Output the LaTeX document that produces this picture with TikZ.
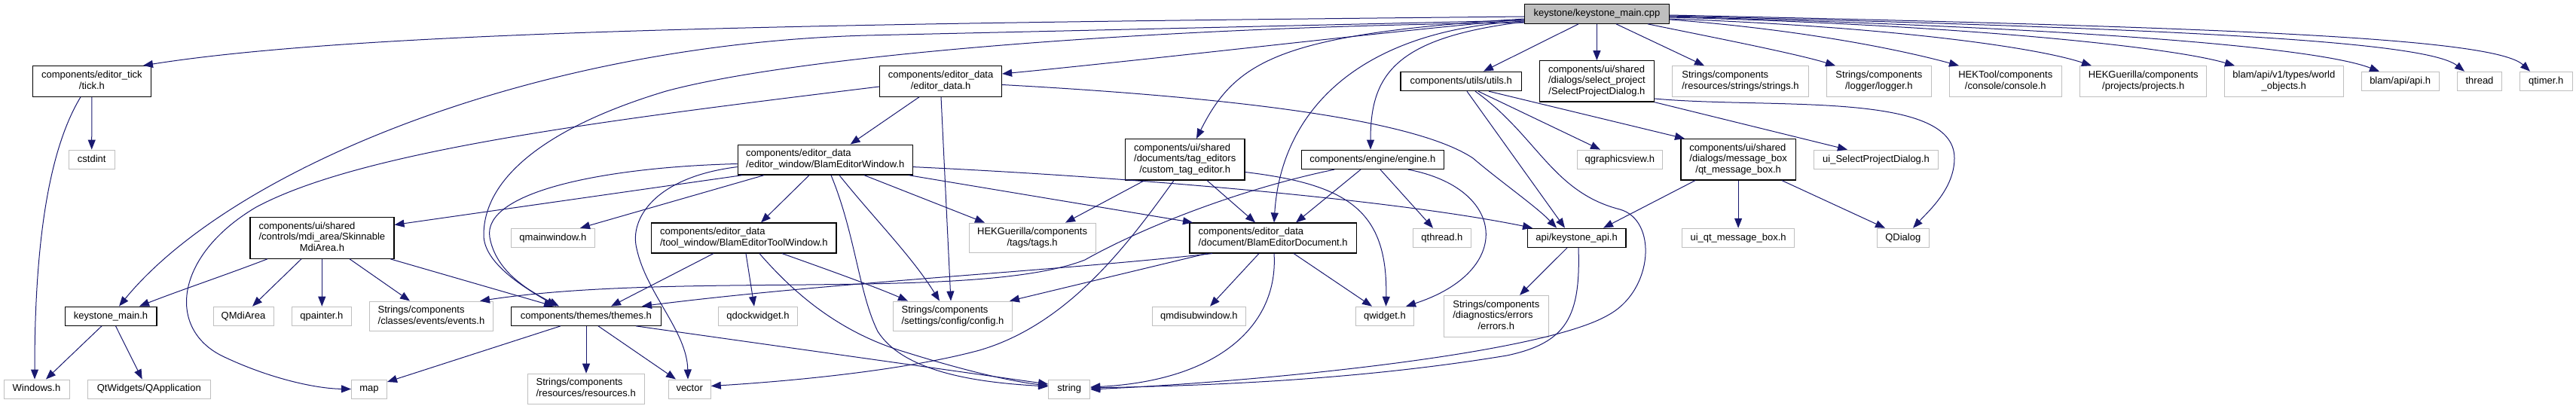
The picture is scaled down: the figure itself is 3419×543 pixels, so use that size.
\documentclass[tikz,border=0pt]{standalone}
\usepackage{fontspec}
\setmainfont{Liberation Sans}
\usetikzlibrary{arrows.meta}
\definecolor{midblue}{HTML}{191970}
\definecolor{greyseventyfive}{HTML}{BFBFBF}
\newcommand\dxl[2]{\begin{tabular}{@{}l@{}}#1\\\multicolumn{1}{@{}c@{}}{#2}\end{tabular}}
\begin{document}
\begin{tikzpicture}[x=1pt,y=-1pt,font=\fontsize{13}{14.6}\selectfont,
 bx/.style={draw=black,line width=1.3pt,inner sep=0pt,fill=white},
 gx/.style={draw=greyseventyfive,line width=1pt,inner sep=0pt,fill=white},
 one/.style={text height=9.5pt,text depth=2.8pt},
 dep/.style={draw=midblue,line width=1pt,-{Triangle[length=13pt,width=10pt]}}]
\useasboundingbox (0,0) rectangle (3419,543);
% nodes
\node[bx,fill=greyseventyfive,one,minimum width=192pt,minimum height=26pt] (root) at (2119.4,18.2) {keystone/keystone\_main.cpp};
\node[bx,minimum width=157.2pt,minimum height=40.5pt] (tick) at (121.9,107.9) {\dxl{components/editor\_tick}{/tick.h}};
\node[gx,one,minimum width=61.4pt,minimum height=25.3pt] (cstdint) at (121.7,211.7) {cstdint};
\node[bx,minimum width=190.9pt,minimum height=54.7pt] (mdi) at (427.4,315.8) {\dxl{components/ui/shared\\/controls/mdi\_area/Skinnable}{MdiArea.h}};
\node[bx,one,minimum width=121.7pt,minimum height=25pt] (kmain) at (147.1,419.7) {keystone\_main.h};
\node[gx,one,minimum width=80pt,minimum height=25pt] (qmdiarea) at (323,419.7) {QMdiArea};
\node[gx,one,minimum width=79.2pt,minimum height=25pt] (qpainter) at (426.9,419.7) {qpainter.h};
\node[gx,minimum width=163.8pt,minimum height=39.7pt] (events) at (572.5,419.9) {\dxl{Strings/components}{/classes/events/events.h}};
\node[gx,one,minimum width=87pt,minimum height=25pt] (windows) at (48.5,516.5) {Windows.h};
\node[gx,one,minimum width=162.5pt,minimum height=25pt] (qapp) at (197.8,516.5) {QtWidgets/QApplication};
\node[gx,one,minimum width=47pt,minimum height=25pt] (map) at (490,516.5) {map};
\node[bx,minimum width=232.2pt,minimum height=39.8pt] (bew) at (1095.3,212.1) {\dxl{components/editor\_data}{/editor\_window/BlamEditorWindow.h}};
\node[gx,one,minimum width=111pt,minimum height=25pt] (qmainwindow) at (733.9,315.8) {qmainwindow.h};
\node[bx,minimum width=245.6pt,minimum height=39.8pt] (betw) at (987.3,316) {\dxl{components/editor\_data}{/tool\_window/BlamEditorToolWindow.h}};
\node[bx,one,minimum width=199pt,minimum height=25pt] (themes) at (777.9,419.7) {components/themes/themes.h};
\node[gx,one,minimum width=105.4pt,minimum height=25pt] (qdock) at (1006,419.7) {qdockwidget.h};
\node[gx,minimum width=155pt,minimum height=39.8pt] (resources) at (777.7,516.1) {\dxl{Strings/components}{/resources/resources.h}};
\node[gx,one,minimum width=56.2pt,minimum height=25pt] (vector) at (915.2,516.5) {vector};
\node[bx,minimum width=161.7pt,minimum height=40.5pt] (edata) at (1248.6,107.9) {\dxl{components/editor\_data}{/editor\_data.h}};
\node[bx,minimum width=158.7pt,minimum height=54.3pt] (cte) at (1572.7,211.8) {\dxl{components/ui/shared\\/documents/tag\_editors}{/custom\_tag\_editor.h}};
\node[gx,minimum width=168pt,minimum height=39.8pt] (tags) at (1370.1,316) {\dxl{HEKGuerilla/components}{/tags/tags.h}};
\node[bx,minimum width=221.2pt,minimum height=39.8pt] (bed) at (1689.7,316) {\dxl{components/editor\_data}{/document/BlamEditorDocument.h}};
\node[gx,minimum width=158.7pt,minimum height=39.7pt] (config) at (1264.5,419.9) {\dxl{Strings/components}{/settings/config/config.h}};
\node[gx,one,minimum width=124.3pt,minimum height=25pt] (qmdisub) at (1591.4,419.7) {qmdisubwindow.h};
\node[gx,one,minimum width=55.1pt,minimum height=25pt] (string) at (1419.2,516.5) {string};
\node[bx,one,minimum width=160.2pt,minimum height=25.3pt] (utils) at (1939.2,107.9) {components/utils/utils.h};
\node[bx,minimum width=152.1pt,minimum height=54.3pt] (spd) at (2119.4,107.9) {\dxl{components/ui/shared\\/dialogs/select\_project}{/SelectProjectDialog.h}};
\node[gx,minimum width=180.4pt,minimum height=40.5pt] (strings) at (2310,107.9) {\dxl{Strings/components}{/resources/strings/strings.h}};
\node[bx,one,minimum width=188.7pt,minimum height=25.3pt] (engine) at (1821.8,211.8) {components/engine/engine.h};
\node[gx,one,minimum width=113.2pt,minimum height=25.3pt] (qgv) at (2149.9,211.8) {qgraphicsview.h};
\node[bx,minimum width=152.3pt,minimum height=54.3pt] (qtmb) at (2307.1,211.8) {\dxl{components/ui/shared\\/dialogs/message\_box}{/qt\_message\_box.h}};
\node[gx,one,minimum width=76.3pt,minimum height=25pt] (qthread) at (1913.9,315.8) {qthread.h};
\node[bx,one,minimum width=130.9pt,minimum height=25pt] (kapi) at (2092.6,315.8) {api/keystone\_api.h};
\node[gx,one,minimum width=149.3pt,minimum height=25pt] (uiqtmb) at (2307.1,315.8) {ui\_qt\_message\_box.h};
\node[gx,one,minimum width=77.3pt,minimum height=25pt] (qwidget) at (1837.9,419.7) {qwidget.h};
\node[gx,minimum width=138.8pt,minimum height=54.7pt] (errors) at (1985.8,419.7) {\dxl{Strings/components\\/diagnostics/errors}{/errors.h}};
\node[gx,minimum width=139.1pt,minimum height=40.5pt] (logger) at (2493.9,107.9) {\dxl{Strings/components}{/logger/logger.h}};
\node[gx,minimum width=148.8pt,minimum height=40.5pt] (console) at (2661.8,107.9) {\dxl{HEKTool/components}{/console/console.h}};
\node[gx,minimum width=168.1pt,minimum height=40.5pt] (projects) at (2844.7,107.9) {\dxl{HEKGuerilla/components}{/projects/projects.h}};
\node[gx,one,minimum width=164.7pt,minimum height=25.3pt] (uispd) at (2490,211.8) {ui\_SelectProjectDialog.h};
\node[gx,one,minimum width=69.2pt,minimum height=25pt] (qdialog) at (2525.8,315.8) {QDialog};
\node[gx,minimum width=157.9pt,minimum height=40.5pt] (world) at (3031.3,107.9) {\dxl{blam/api/v1/types/world}{\_objects.h}};
\node[gx,one,minimum width=103.1pt,minimum height=25.3pt] (apih) at (3185.7,107.9) {blam/api/api.h};
\node[gx,one,minimum width=59.1pt,minimum height=25.3pt] (thread) at (3291,107.9) {thread};
\node[gx,one,minimum width=70pt,minimum height=25.3pt] (qtimer) at (3379.2,107.9) {qtimer.h};
% edges from root
\draw[dep] (root.west |- 0,22) .. controls (1123,31) and (490,39.6) .. (tick.north -| 190,0);
\draw[dep] (root.west |- 0,27) -- (1150,47) .. controls (700,60) and (305,227) .. (kmain.north -| 158,0);
\draw[dep] (root.west |- 0,30) .. controls (1500,36) and (1050,76) .. (884,121) .. controls (734,166) and (642,232) .. (642,312) .. controls (642,350) and (698,383) .. (themes.north -| 738,0);
\draw[dep] (root.west |- 0,26) .. controls (1900,35) and (1529,79) .. (edata.east |- 0,98);
\draw[dep] (root.west |- 0,25) .. controls (1700,45) and (1640,80) .. (cte.north -| 1588,0);
\draw[dep] (root.west |- 0,28) .. controls (1800,40) and (1700,150) .. (bed.north -| 1691,0);
\draw[dep] (root.west |- 0,29) .. controls (1850,50) and (1819,100) .. (engine.north -| 1819,0);
\draw[dep] (root.south -| 2095,0) -- (utils.north -| 1969,0);
\draw[dep] (root.south) -- (spd.north);
\draw[dep] (root.south -| 2145,0) -- (strings.north -| 2262,0);
\draw[dep] (root.south -| 2187,0) .. controls (2250,45) and (2380,70) .. (logger.north -| 2436,0);
\draw[dep] (root.east |- 0,26) .. controls (2400,40) and (2530,68) .. (console.north -| 2600,0);
\draw[dep] (root.east |- 0,25) .. controls (2500,35) and (2700,62) .. (projects.north -| 2776,0);
\draw[dep] (root.east |- 0,23) .. controls (2600,33) and (2880,62) .. (world.north -| 2966,0);
\draw[dep] (root.east |- 0,22) .. controls (2800,38) and (3080,65) .. (apih.north -| 3158,0);
\draw[dep] (root.east |- 0,21) .. controls (2900,38) and (3220,55) .. (thread.north -| 3271,0);
\draw[dep] (root.east |- 0,20) .. controls (2950,36) and (3310,50) .. (qtimer.north -| 3358,0);
% tick, keystone_main.h
\draw[dep] (tick.south) -- (cstdint.north);
\draw[dep] (tick.south -| 107,0) .. controls (70,190) and (46,300) .. (windows.north -| 46,0);
\draw[dep] (kmain.south -| 135,0) -- (windows.north -| 61,0);
\draw[dep] (kmain.south -| 153.5,0) -- (qapp.north -| 188.7,0);
% SkinnableMdiArea
\draw[dep] (mdi.south -| 355,0) .. controls (300,365) and (240,385) .. (kmain.north -| 185,0);
\draw[dep] (mdi.south -| 400,0) -- (qmdiarea.north -| 335,0);
\draw[dep] (mdi.south -| 427.3,0) -- (qpainter.north -| 427.3,0);
\draw[dep] (mdi.south -| 464,0) -- (events.north -| 544,0);
\draw[dep] (mdi.south -| 518,0) -- (themes.north -| 735,0);
% BlamEditorWindow
\draw[dep] (bew.south -| 985,0) -- (mdi.east |- 0,298.5);
\draw[dep] (bew.west |- 0,217.5) .. controls (800,222) and (640,255) .. (650,315) .. controls (658,360) and (700,385) .. (themes.north -| 742,0);
\draw[dep] (bew.west |- 0,221.6) .. controls (870,235) and (835,290) .. (845,330) .. controls (858,390) and (912,440) .. (vector.north -| 913,0);
\draw[dep] (bew.south -| 1014,0) -- (qmainwindow.north -| 770,0);
\draw[dep] (bew.south -| 1074,0) -- (betw.north -| 1010,0);
\draw[dep] (bew.south -| 1103,0) .. controls (1135,310) and (1140,390) .. (1165,440) .. controls (1200,495) and (1300,508) .. (string.west |- 0,513);
\draw[dep] (bew.south -| 1114,0) .. controls (1160,290) and (1210,340) .. (config.north -| 1247,0);
\draw[dep] (bew.south -| 1147,0) -- (tags.north -| 1307,0);
\draw[dep] (bew.south -| 1206,0) -- (bed.north -| 1583,0);
\draw[dep] (bew.east |- 0,221.6) .. controls (1500,235) and (1850,265) .. (kapi.north -| 2034,0);
% editor_data.h
\draw[dep] (edata.south -| 1220,0) -- (bew.north -| 1128.6,0);
\draw[dep] (edata.south -| 1249,0) -- (config.north -| 1262,0);
\draw[dep] (edata.west |- 0,115) .. controls (800,160) and (480,200) .. (340,275) .. controls (230,340) and (220,440) .. (300,475) .. controls (360,503) and (420,516) .. (map.west);
\draw[dep] (edata.east |- 0,112.5) .. controls (1650,130) and (1880,160) .. (1955,210) .. controls (1990,240) and (2040,275) .. (kapi.north -| 2066,0);
% custom_tag_editor.h
\draw[dep] (cte.south -| 1519,0) -- (tags.north -| 1414,0);
\draw[dep] (cte.south -| 1558,0) .. controls (1500,320) and (1420,430) .. (1300,465) .. controls (1200,492) and (1050,506) .. (vector.east |- 0,512.5);
\draw[dep] (cte.south -| 1602,0) -- (bed.north -| 1666,0);
\draw[dep] (cte.east |- 0,228.5) .. controls (1790,245) and (1842,280) .. (qwidget.north -| 1839.5,0);
% BlamEditorDocument.h
\draw[dep] (bed.south -| 1609,0) .. controls (1400,360) and (1100,375) .. (themes.north -| 852,0);
\draw[dep] (bed.south -| 1602,0) -- (config.north -| 1340,0);
\draw[dep] (bed.south -| 1671,0) -- (qmdisub.north -| 1606,0);
\draw[dep] (bed.south -| 1691,0) .. controls (1697,430) and (1620,505) .. (string.east |- 0,514);
\draw[dep] (bed.south -| 1717,0) -- (qwidget.north -| 1821,0);
% engine.h
\draw[dep] (engine.south -| 1771,0) .. controls (1650,250) and (1520,300) .. (1440,345) .. controls (1300,400) and (900,360) .. (events.north -| 637,0);
\draw[dep] (engine.south -| 1806,0) -- (bed.north -| 1720,0);
\draw[dep] (engine.south -| 1832,0) -- (qthread.north -| 1902,0);
\draw[dep] (engine.south -| 1869,0) .. controls (2000,250) and (2010,360) .. (qwidget.north -| 1866,0);
% utils.h
\draw[dep] (utils.south -| 1947,0) -- (kapi.north -| 2077,0);
\draw[dep] (utils.south -| 1958,0) .. controls (2040,180) and (2060,255) .. (2150,278) .. controls (2200,292) and (2195,385) .. (2135,418) .. controls (2050,468) and (1700,505) .. (string.east |- 0,517);
\draw[dep] (utils.south -| 1962,0) -- (qgv.north -| 2124,0);
\draw[dep] (utils.south -| 1976,0) -- (qtmb.north -| 2236,0);
% SelectProjectDialog.h
\draw[dep] (spd.south east) -- (uispd.north -| 2452,0);
\draw[dep] (spd.east |- 0,131) .. controls (2350,145) and (2594,120) .. (2594,210) .. controls (2594,250) and (2560,280) .. (qdialog.north -| 2539,0);
% qt_message_box.h
\draw[dep] (qtmb.south -| 2250,0) -- (kapi.north -| 2128,0);
\draw[dep] (qtmb.south) -- (uiqtmb.north);
\draw[dep] (qtmb.south -| 2365,0) -- (qdialog.north -| 2502,0);
% keystone_api.h
\draw[dep] (kapi.south -| 2080,0) -- (errors.north -| 2017,0);
\draw[dep] (kapi.south -| 2095,0) .. controls (2098,420) and (2080,455) .. (2000,472) .. controls (1800,505) and (1600,512) .. (string.east |- 0,515);
% themes.h
\draw[dep] (themes.south -| 744,0) -- (map.east |- 0,507);
\draw[dep] (themes.south -| 778,0) -- (resources.north -| 778,0);
\draw[dep] (themes.south -| 794,0) -- (vector.north -| 897,0);
\draw[dep] (themes.south -| 844,0) -- (string.west |- 0,510);
% BlamEditorToolWindow.h
\draw[dep] (betw.south -| 947,0) -- (themes.north -| 811,0);
\draw[dep] (betw.south -| 990,0) -- (qdock.north -| 1001,0);
\draw[dep] (betw.south -| 1008,0) .. controls (1050,385) and (1110,440) .. (1200,467) .. controls (1280,492) and (1340,506) .. (string.west |- 0,512);
\draw[dep] (betw.south -| 1038,0) .. controls (1090,355) and (1160,380) .. (config.north -| 1205,0);
\end{tikzpicture}
\end{document}
